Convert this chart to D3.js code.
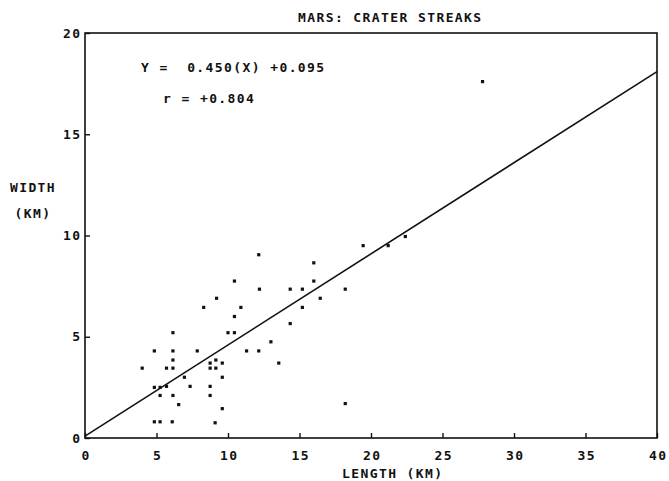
<!DOCTYPE html>
<html>
<head>
<meta charset="utf-8">
<script src="https://cdn.jsdelivr.net/npm/d3@7"></script>
<style>
  html, body { margin: 0; padding: 0; background: #ffffff; }
  svg text { font-family: "DejaVu Sans Mono", monospace; font-weight: bold; font-size: 13px; letter-spacing: 1.4px; fill: #111; }
</style>
</head>
<body>
<svg id="chart" width="669" height="481"></svg>
<script>
// Crater streak measurements on Mars (km)
const streakLength = [27.8, 22.4, 21.2, 19.45, 16.0, 12.15, 16.0, 10.45, 12.2, 14.35,
  15.2, 18.2, 9.2, 16.45, 8.3, 10.9, 15.2, 10.45, 14.35, 6.15,
  10.0, 10.45, 13.0, 4.85, 6.15, 7.85, 11.3, 12.15, 6.15, 13.55,
  8.75, 9.15, 9.6, 4.0, 5.7, 6.15, 8.75, 9.15, 6.95, 9.6,
  7.35, 8.75, 4.85, 5.25, 5.7, 5.25, 6.15, 8.75, 6.55, 9.6,
  18.2, 4.85, 5.25, 6.1, 9.1];
const streakWidth = [17.6, 9.95, 9.5, 9.5, 8.65, 9.05, 7.75, 7.75, 7.35, 7.35,
  7.35, 7.35, 6.9, 6.9, 6.45, 6.45, 6.45, 6.0, 5.65, 5.2,
  5.2, 5.2, 4.75, 4.3, 4.3, 4.3, 4.3, 4.3, 3.85, 3.7,
  3.7, 3.85, 3.7, 3.45, 3.45, 3.45, 3.45, 3.45, 3.0, 3.0,
  2.55, 2.55, 2.5, 2.5, 2.55, 2.1, 2.1, 2.1, 1.65, 1.45,
  1.7, 0.8, 0.8, 0.8, 0.75];

// Least-squares fit shown on the chart
const fitSlope = 0.450;
const fitIntercept = 0.095;
const fitR = "+0.804";

const xTicks = [0, 5, 10, 15, 20, 25, 30, 35, 40];
const yTicks = [0, 5, 10, 15, 20];

const svg = d3.select("#chart");
const plotLeft = 85, plotRight = 657, plotTop = 33, plotBottom = 438;

const x = d3.scaleLinear().domain([0, 40]).range([plotLeft, plotRight]);
const y = d3.scaleLinear().domain([0, 20]).range([plotBottom, plotTop]);

// Title
svg.append("text").attr("x", 298).attr("y", 22).text("MARS: CRATER STREAKS");

// Frame
svg.append("rect")
  .attr("x", plotLeft).attr("y", plotTop)
  .attr("width", plotRight - plotLeft).attr("height", plotBottom - plotTop)
  .attr("fill", "none").attr("stroke", "#111").attr("stroke-width", 1.6);

// X axis: inward ticks, labels below
const xAxis = d3.axisBottom(x).tickValues(xTicks).tickSize(-5).tickPadding(13)
  .tickFormat(d3.format("d"));
const gx = svg.append("g").attr("transform", `translate(0,${plotBottom})`).call(xAxis);
gx.select(".domain").remove();
gx.selectAll(".tick line").attr("stroke", "#111").attr("stroke-width", 1.4);
gx.selectAll(".tick text").attr("font-size", null).attr("font-family", null)
  .attr("fill", null).attr("dx", "0.7px");

// Y axis: inward ticks, labels on the left
const yAxis = d3.axisLeft(y).tickValues(yTicks).tickSize(-5).tickPadding(5)
  .tickFormat(d3.format("d"));
const gy = svg.append("g").attr("transform", `translate(${plotLeft},0)`).call(yAxis);
gy.select(".domain").remove();
gy.selectAll(".tick line").attr("stroke", "#111").attr("stroke-width", 1.4);
gy.selectAll(".tick text").attr("font-size", null).attr("font-family", null)
  .attr("fill", null).attr("dx", "1.4px");

// Axis titles
svg.append("text").attr("x", 342).attr("y", 478).text("LENGTH (KM)");
svg.append("text").attr("x", 33).attr("y", 192).attr("text-anchor", "middle").text("WIDTH");
svg.append("text").attr("x", 33).attr("y", 218).attr("text-anchor", "middle").text("(KM)");

// Regression line
svg.append("line")
  .attr("x1", x(0)).attr("y1", y(fitIntercept))
  .attr("x2", x(40)).attr("y2", y(fitSlope * 40 + fitIntercept))
  .attr("stroke", "#111").attr("stroke-width", 1.6);

// Fit annotation
svg.append("text").attr("x", 141).attr("y", 72).attr("xml:space", "preserve")
  .text(`Y =  ${fitSlope.toFixed(3)}(X) +${fitIntercept.toFixed(3)}`);
svg.append("text").attr("x", 163).attr("y", 103).text(`r = ${fitR}`);

// Observations
const pts = streakLength.map((l, i) => ({ l, w: streakWidth[i] }));
svg.append("g").selectAll("rect").data(pts).join("rect")
  .attr("x", d => x(d.l) - 1.6).attr("y", d => y(d.w) - 1.6)
  .attr("width", 3.2).attr("height", 3.2).attr("fill", "#111");
</script>
</body>
</html>
